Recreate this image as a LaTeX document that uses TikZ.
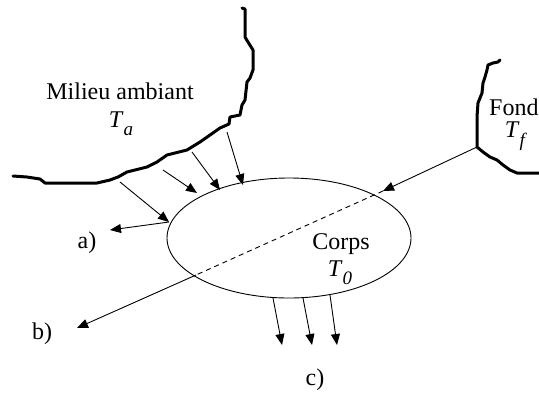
\documentclass[tikz,border=0pt]{standalone}
\usepackage{fontspec}
\setmainfont{Liberation Serif}
\usetikzlibrary{arrows.meta,shapes.geometric}
\tikzset{
  lbl/.style={font=\fontsize{24}{28}\selectfont, inner sep=0pt},
  bord/.style={line width=3pt, line join=round, line cap=round},
  flux/.style={line width=0.9pt, -{Triangle[length=11pt,width=9pt]}},
  hidden/.style={line width=0.9pt, dash pattern=on 5pt off 4pt}
}
\newcommand{\tsub}[2]{\textit{#1}\raisebox{-0.35em}{\fontsize{19}{22}\selectfont\textit{#2}}}
\begin{document}
\begin{tikzpicture}[x=1pt,y=-1pt]
\useasboundingbox (0,0) rectangle (539,392);
% milieu ambiant boundary
\draw[bord] (242,8) -- (245,9) -- (245,37) -- (248,42) -- (253,50) -- (253,70) -- (250,78) -- (247,82)
  -- (245,100) -- (242,105) -- (240,115) -- (230,117) -- (229,124) -- (220,128) -- (210,135)
  -- (200,142) -- (187,150) -- (167,155) -- (157,162) -- (147,167) -- (127,172) -- (118,177)
  -- (110,180) -- (97,183) -- (45,183) -- (40,179) -- (27,177) -- (13,176);
% fond boundary
\draw[bord] (500,60) -- (498,62) -- (493,63) -- (488,65) -- (487,70) -- (485,77) -- (483,83)
  -- (482,93) -- (478,103) -- (477,117) -- (477,147) -- (483,152) -- (490,157) -- (497,160)
  -- (503,165) -- (510,170) -- (517,173) -- (539,173);
% corps
\node[ellipse, draw, line width=0.9pt, minimum width=244pt, minimum height=120pt, inner sep=0pt] (corps) at (289,238) {};
% labels
\node[lbl] (milieu) at (120,91) {Milieu ambiant};
\node[lbl] (ta) at (121,124) {\tsub{T}{a}};
\node[lbl, anchor=west] (fond) at (489,107) {Fond};
\node[lbl] (tf) at (516,136) {\tsub{T}{f}};
\node[lbl] (corpslbl) at (341,244) {Corps};
\node[lbl] (t0) at (340,273) {\tsub{T}{0}};
\node[lbl] (la) at (87,243) {a)};
\node[lbl] (lb) at (42,334) {b)};
\node[lbl] (lc) at (315,380) {c)};
% coordinates
\coordinate (m1) at (120,182);
\coordinate (m2) at (163,170);
\coordinate (m3) at (192,152);
\coordinate (m4) at (227,132);
\coordinate (e1) at (169,222);
\coordinate (e2) at (197,193);
\coordinate (e3) at (220,190);
\coordinate (e4) at (243,185);
\coordinate (atip) at (110,230);
\coordinate (fpt) at (477,147);
\coordinate (pin) at (383,191);
\coordinate (pout) at (196,275);
\coordinate (btip) at (77,328);
\coordinate (c1s) at (273,298);
\coordinate (c1e) at (282,345);
\coordinate (c2s) at (303,298);
\coordinate (c2e) at (312,345);
\coordinate (c3s) at (330,295);
\coordinate (c3e) at (337,345);
% flux
\draw[flux] (m1) -- (e1);
\draw[flux] (m2) -- (e2);
\draw[flux] (m3) -- (e3);
\draw[flux] (m4) -- (e4);
\draw[flux] (e1) -- (atip);
\draw[flux] (fpt) -- (pin);
\draw[hidden] (pin) -- (pout);
\draw[flux] (pout) -- (btip);
\draw[flux] (c1s) -- (c1e);
\draw[flux] (c2s) -- (c2e);
\draw[flux] (c3s) -- (c3e);
\end{tikzpicture}
\end{document}
